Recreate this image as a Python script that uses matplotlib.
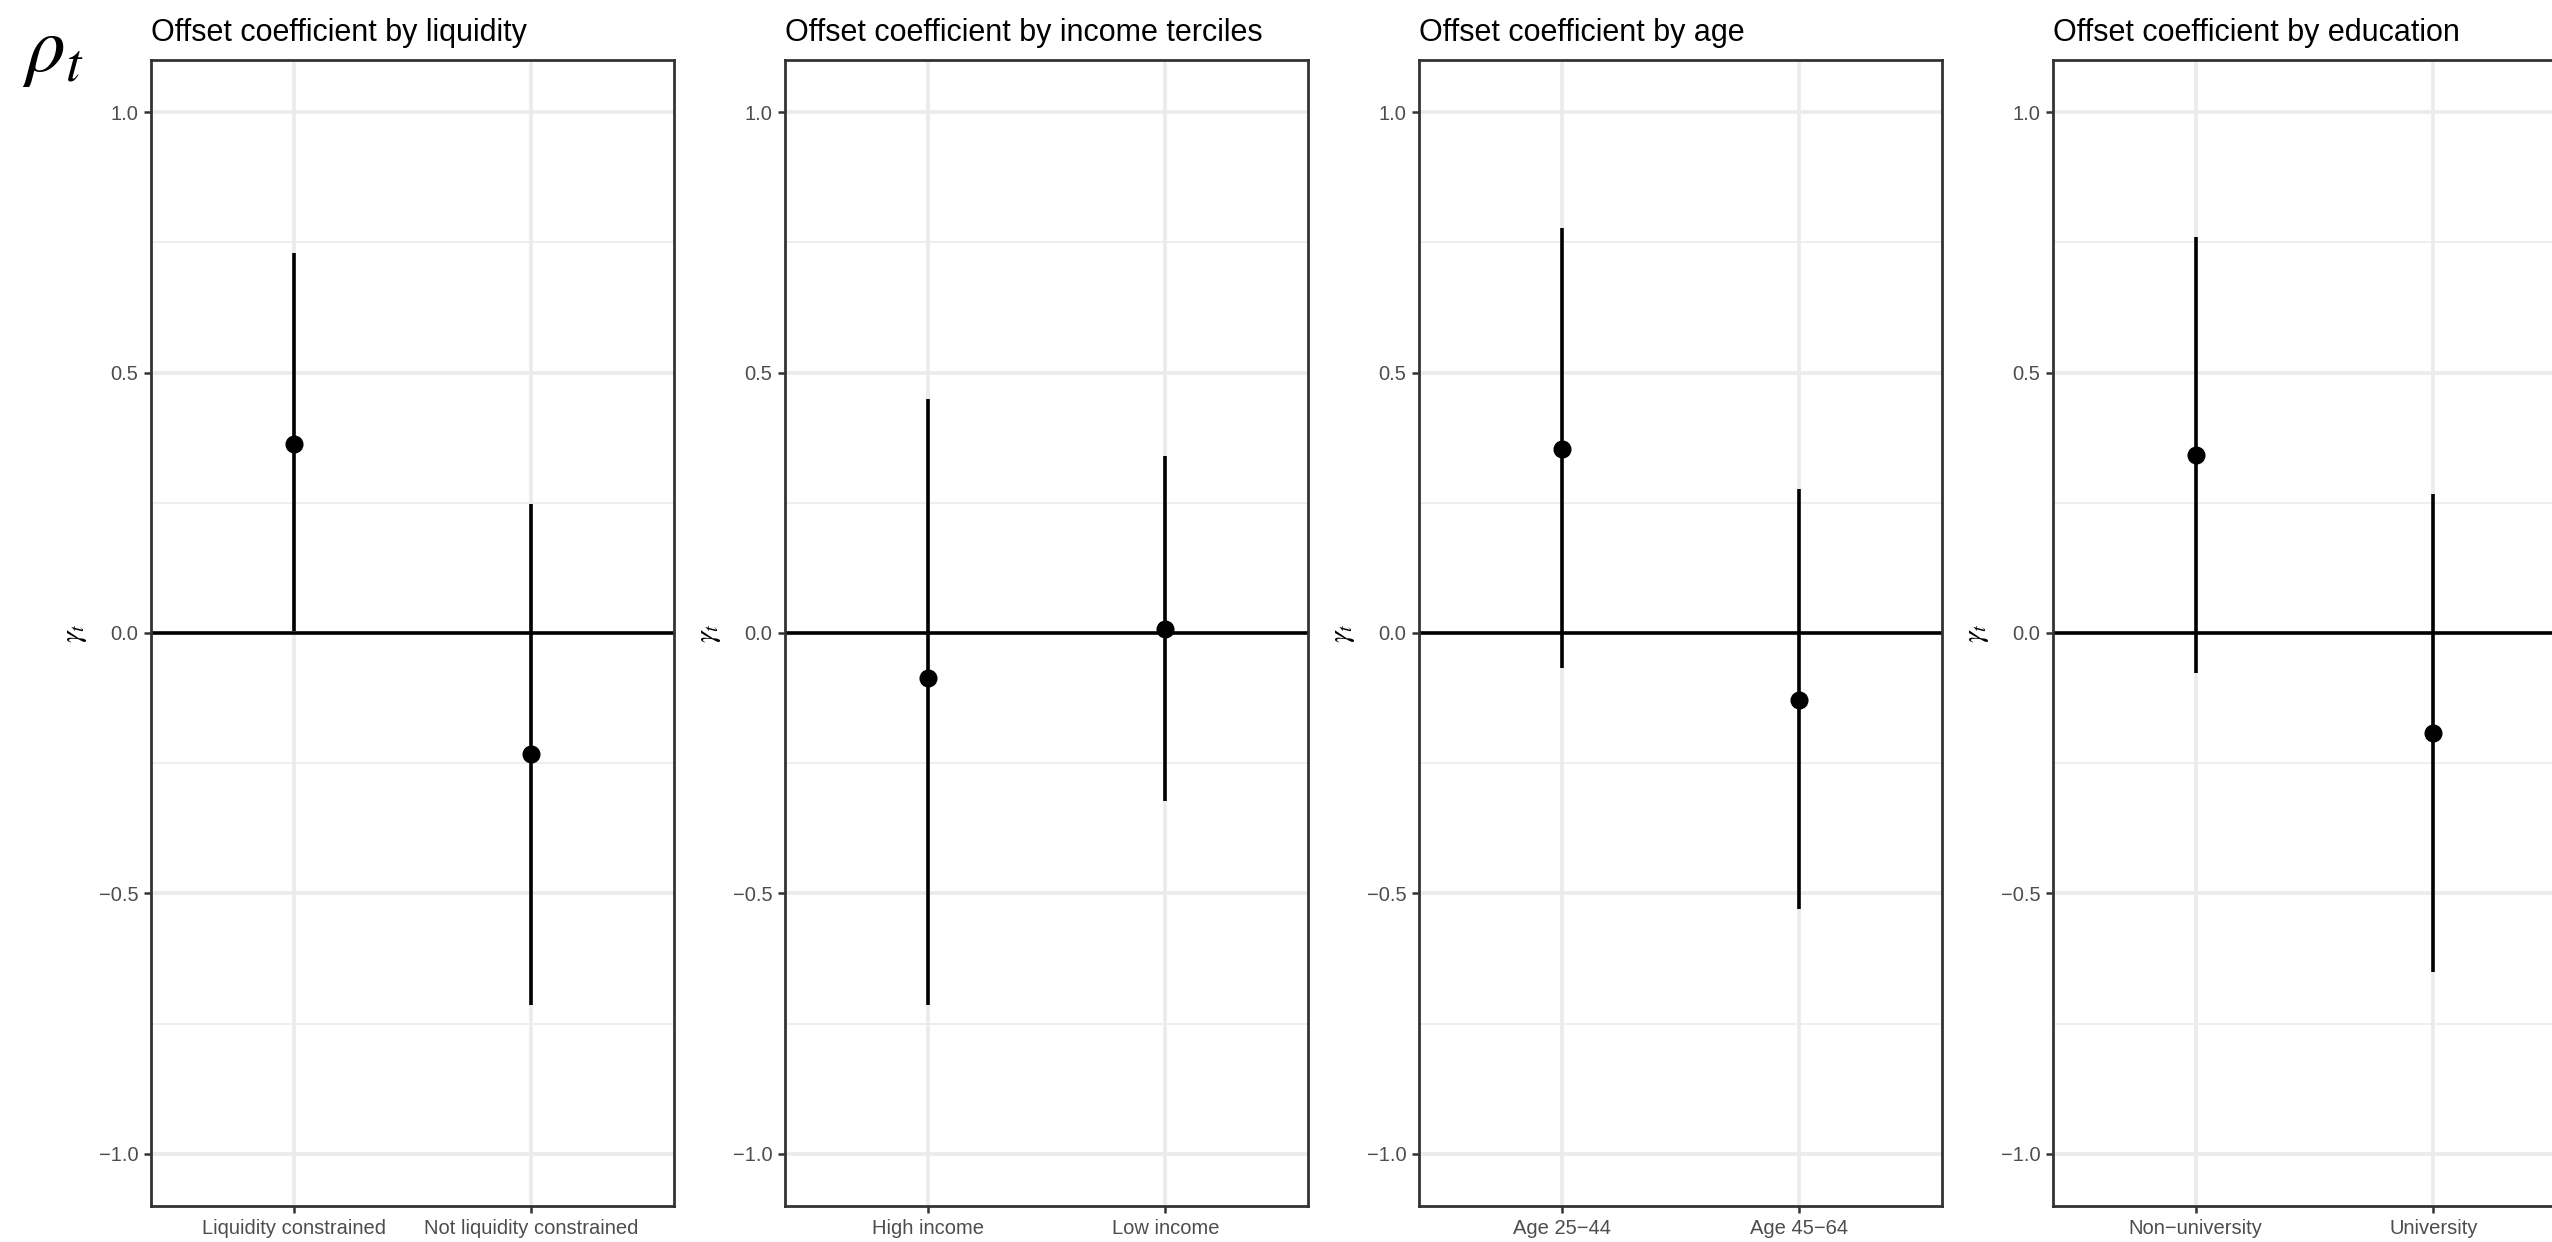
import matplotlib.pyplot as plt

plt.rcParams['font.family'] = ['Liberation Sans', 'DejaVu Sans']
plt.rcParams['mathtext.fontset'] = 'stix'

# offset coefficient estimates with confidence bounds, by subgroup
titles = ["Offset coefficient by liquidity", "Offset coefficient by income terciles",
          "Offset coefficient by age", "Offset coefficient by education"]
groups = [["Liquidity constrained", "Not liquidity constrained"],
          ["High income", "Low income"],
          ["Age 25\u221244", "Age 45\u221264"],
          ["Non\u2212university", "University"]]
estimates = [[0.363, -0.233], [-0.086, 0.008], [0.354, -0.129], [0.341, -0.192]]
lower = [[0.003, -0.714], [-0.714, -0.323], [-0.067, -0.529], [-0.076, -0.650]]
upper = [[0.729, 0.248], [0.450, 0.339], [0.778, 0.276], [0.760, 0.267]]

y_ticks = [-1.0, -0.5, 0.0, 0.5, 1.0]
y_labels = ["\u22121.0", "\u22120.5", "0.0", "0.5", "1.0"]
y_minor = [-0.75, -0.25, 0.25, 0.75]

W, H = 2552, 1242
fig = plt.figure(figsize=(W / 100, H / 100), dpi=100)

lefts = [151, 785, 1419, 2053]
for i, left in enumerate(lefts):
    ax = fig.add_axes([left / W, 36 / H, 523 / W, 1146 / H])
    x = [1, 2]

    ax.axhline(0, color='black', lw=2.6, zorder=2)
    ax.vlines(x, lower[i], upper[i], color='black', lw=2.6, zorder=3)
    ax.plot(x, estimates[i], 'o', color='black', ms=12, zorder=4)

    ax.set_xlim(0.4, 2.6)
    ax.set_ylim(-1.1, 1.1)
    ax.set_xticks(x)
    ax.set_xticklabels(groups[i])
    ax.set_yticks(y_ticks)
    ax.set_yticklabels(y_labels)
    ax.set_yticks(y_minor, minor=True)

    ax.set_axisbelow(True)
    ax.grid(which='major', color='#EBEBEB', lw=2.6)
    ax.grid(which='minor', axis='y', color='#EBEBEB', lw=1.2)
    ax.tick_params(which='major', length=5, width=1.8, color='#333333',
                   labelsize=14.5, labelcolor='#4D4D4D', pad=4)
    ax.tick_params(which='minor', length=0)
    for s in ax.spines.values():
        s.set_color('#333333')
        s.set_linewidth(2.0)

    ax.set_title(titles[i], loc='left', fontsize=22, pad=14)
    ax.set_ylabel(r'$\gamma_t$', fontsize=21)
    ax.yaxis.set_label_coords(-76 / 523, 0.5)
    ax.yaxis.label.set_va('center')

fig.text(22 / W, 1 - 14 / H, r'$\rho_t$', fontsize=57, va='top', ha='left')

plt.savefig("out.png", dpi=100)
